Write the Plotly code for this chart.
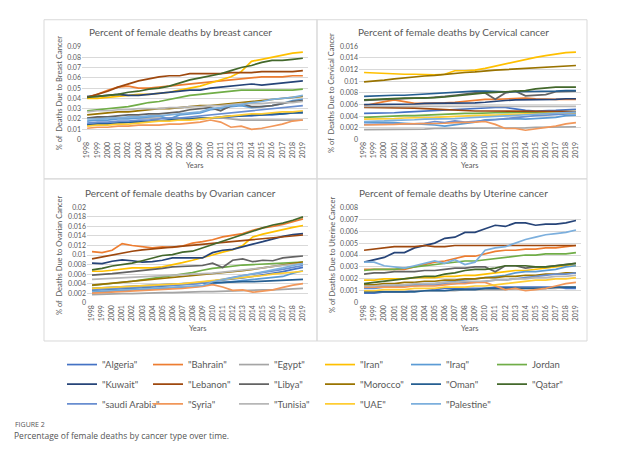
import plotly.graph_objects as go

W, H = 634, 455
years = list(range(1998, 2020))
year_labels = [str(y) for y in years]

countries = ['"Algeria"', '"Bahrain"', '"Egypt"', '"Iran"', '"Iraq"', 'Jordan',
             '"Kuwait"', '"Lebanon"', '"Libya"', '"Morocco"', '"Oman"', '"Qatar"',
             '"saudi Arabia"', '"Syria"', '"Tunisia"', '"UAE"', '"Palestine"']
colors = ['#4472C4', '#ED7D31', '#A5A5A5', '#FFC000', '#5B9BD5', '#70AD47',
          '#264478', '#9E480E', '#636363', '#997300', '#255E91', '#43682B',
          '#698ED0', '#F1975A', '#B7B7B7', '#FFCD33', '#7CAFDD']

# ---------------- Breast cancer ----------------
breast_algeria = [0.015, 0.015, 0.016, 0.016, 0.017, 0.017, 0.018, 0.018, 0.019, 0.019, 0.020, 0.020, 0.021, 0.021, 0.022, 0.023, 0.023, 0.024, 0.024, 0.025, 0.026, 0.027]
breast_bahrain = [0.041, 0.044, 0.048, 0.051, 0.052, 0.050, 0.050, 0.051, 0.052, 0.053, 0.054, 0.055, 0.056, 0.057, 0.058, 0.059, 0.060, 0.061, 0.061, 0.061, 0.062, 0.062]
breast_egypt = [0.021, 0.021, 0.021, 0.021, 0.021, 0.021, 0.021, 0.021, 0.021, 0.021, 0.021, 0.021, 0.021, 0.021, 0.020, 0.019, 0.019, 0.019, 0.019, 0.019, 0.019, 0.019]
breast_iran = [0.040, 0.040, 0.041, 0.042, 0.043, 0.044, 0.044, 0.045, 0.046, 0.048, 0.050, 0.052, 0.055, 0.058, 0.061, 0.066, 0.076, 0.078, 0.080, 0.082, 0.084, 0.085]
breast_iraq = [0.018, 0.019, 0.019, 0.020, 0.020, 0.021, 0.022, 0.023, 0.020, 0.024, 0.025, 0.026, 0.029, 0.030, 0.032, 0.033, 0.031, 0.032, 0.033, 0.035, 0.038, 0.039]
breast_jordan = [0.028, 0.029, 0.030, 0.031, 0.032, 0.034, 0.036, 0.037, 0.039, 0.041, 0.043, 0.044, 0.045, 0.046, 0.047, 0.048, 0.048, 0.048, 0.048, 0.048, 0.048, 0.049]
breast_kuwait = [0.042, 0.042, 0.043, 0.044, 0.043, 0.043, 0.044, 0.045, 0.046, 0.047, 0.048, 0.048, 0.050, 0.051, 0.052, 0.053, 0.054, 0.053, 0.054, 0.055, 0.056, 0.057]
breast_lebanon = [0.041, 0.044, 0.047, 0.051, 0.054, 0.057, 0.059, 0.061, 0.062, 0.062, 0.064, 0.064, 0.064, 0.064, 0.065, 0.065, 0.065, 0.066, 0.066, 0.066, 0.066, 0.067]
breast_libya = [0.021, 0.022, 0.022, 0.023, 0.024, 0.024, 0.025, 0.025, 0.026, 0.027, 0.029, 0.030, 0.031, 0.028, 0.033, 0.035, 0.032, 0.032, 0.033, 0.035, 0.037, 0.038]
breast_morocco = [0.024, 0.025, 0.026, 0.027, 0.027, 0.028, 0.029, 0.030, 0.030, 0.031, 0.032, 0.033, 0.033, 0.034, 0.035, 0.036, 0.037, 0.038, 0.039, 0.040, 0.041, 0.042]
breast_oman = [0.014, 0.015, 0.015, 0.016, 0.017, 0.017, 0.018, 0.018, 0.019, 0.020, 0.020, 0.021, 0.021, 0.022, 0.023, 0.023, 0.024, 0.024, 0.025, 0.025, 0.026, 0.026]
breast_qatar = [0.041, 0.042, 0.043, 0.044, 0.046, 0.047, 0.049, 0.050, 0.052, 0.055, 0.058, 0.060, 0.062, 0.064, 0.067, 0.070, 0.072, 0.075, 0.077, 0.077, 0.078, 0.079]
breast_saudi = [0.016, 0.017, 0.017, 0.018, 0.018, 0.019, 0.019, 0.020, 0.021, 0.021, 0.022, 0.023, 0.024, 0.025, 0.026, 0.027, 0.028, 0.029, 0.030, 0.031, 0.032, 0.033]
breast_syria = [0.011, 0.012, 0.012, 0.013, 0.013, 0.014, 0.014, 0.014, 0.015, 0.015, 0.016, 0.017, 0.019, 0.017, 0.012, 0.013, 0.010, 0.011, 0.013, 0.015, 0.018, 0.019]
breast_tunisia = [0.027, 0.028, 0.028, 0.029, 0.029, 0.030, 0.030, 0.030, 0.031, 0.031, 0.032, 0.032, 0.033, 0.033, 0.034, 0.035, 0.035, 0.035, 0.036, 0.036, 0.036, 0.037]
breast_uae = [0.013, 0.014, 0.014, 0.015, 0.015, 0.016, 0.017, 0.018, 0.018, 0.019, 0.019, 0.020, 0.021, 0.022, 0.023, 0.024, 0.025, 0.025, 0.026, 0.027, 0.027, 0.028]
breast_palestine = [0.020, 0.020, 0.021, 0.021, 0.022, 0.022, 0.023, 0.023, 0.024, 0.025, 0.026, 0.027, 0.030, 0.031, 0.033, 0.034, 0.036, 0.037, 0.039, 0.040, 0.041, 0.043]

# ---------------- Cervical cancer ----------------
cervical_algeria = [0.0045, 0.0045, 0.0046, 0.0046, 0.0047, 0.0048, 0.0049, 0.0049, 0.0050, 0.0051, 0.0053, 0.0054, 0.0055, 0.0055, 0.0055, 0.0052, 0.0050, 0.0049, 0.0049, 0.0050, 0.0051, 0.0052]
cervical_bahrain = [0.0058, 0.0062, 0.0065, 0.0068, 0.0065, 0.0062, 0.0062, 0.0062, 0.0063, 0.0064, 0.0066, 0.0068, 0.0069, 0.0069, 0.0070, 0.0071, 0.0071, 0.0070, 0.0069, 0.0069, 0.0069, 0.0069]
cervical_egypt = [0.0017, 0.0017, 0.0017, 0.0018, 0.0018, 0.0018, 0.0018, 0.0019, 0.0019, 0.0019, 0.0019, 0.0020, 0.0020, 0.0020, 0.0020, 0.0020, 0.0020, 0.0021, 0.0021, 0.0021, 0.0022, 0.0022]
cervical_iran = [0.0115, 0.0114, 0.0114, 0.0113, 0.0112, 0.0112, 0.0111, 0.0111, 0.0112, 0.0118, 0.0118, 0.0119, 0.0122, 0.0126, 0.0129, 0.0133, 0.0137, 0.0141, 0.0144, 0.0147, 0.0149, 0.0150]
cervical_iraq = [0.0030, 0.0030, 0.0030, 0.0029, 0.0028, 0.0027, 0.0027, 0.0025, 0.0023, 0.0025, 0.0028, 0.0030, 0.0034, 0.0035, 0.0036, 0.0036, 0.0035, 0.0036, 0.0036, 0.0038, 0.0041, 0.0042]
cervical_jordan = [0.0038, 0.0039, 0.0040, 0.0040, 0.0041, 0.0041, 0.0042, 0.0042, 0.0043, 0.0044, 0.0045, 0.0045, 0.0046, 0.0046, 0.0046, 0.0047, 0.0047, 0.0047, 0.0047, 0.0047, 0.0047, 0.0048]
cervical_kuwait = [0.0060, 0.0060, 0.0061, 0.0061, 0.0061, 0.0061, 0.0062, 0.0062, 0.0062, 0.0062, 0.0062, 0.0063, 0.0064, 0.0066, 0.0067, 0.0068, 0.0068, 0.0068, 0.0069, 0.0069, 0.0070, 0.0070]
cervical_lebanon = [0.0055, 0.0055, 0.0055, 0.0055, 0.0055, 0.0054, 0.0053, 0.0052, 0.0051, 0.0050, 0.0050, 0.0049, 0.0049, 0.0049, 0.0048, 0.0048, 0.0048, 0.0048, 0.0048, 0.0048, 0.0048, 0.0048]
cervical_libya = [0.0067, 0.0068, 0.0069, 0.0070, 0.0070, 0.0071, 0.0071, 0.0072, 0.0074, 0.0076, 0.0078, 0.0080, 0.0080, 0.0069, 0.0080, 0.0083, 0.0075, 0.0076, 0.0077, 0.0082, 0.0083, 0.0083]
cervical_morocco = [0.0099, 0.0100, 0.0102, 0.0104, 0.0106, 0.0107, 0.0109, 0.0110, 0.0112, 0.0113, 0.0115, 0.0116, 0.0118, 0.0119, 0.0120, 0.0121, 0.0122, 0.0123, 0.0124, 0.0125, 0.0126, 0.0127]
cervical_oman = [0.0074, 0.0075, 0.0075, 0.0076, 0.0076, 0.0077, 0.0078, 0.0080, 0.0081, 0.0082, 0.0083, 0.0083, 0.0083, 0.0082, 0.0082, 0.0082, 0.0082, 0.0082, 0.0083, 0.0083, 0.0084, 0.0084]
cervical_qatar = [0.0068, 0.0069, 0.0070, 0.0071, 0.0071, 0.0071, 0.0071, 0.0072, 0.0073, 0.0075, 0.0077, 0.0079, 0.0080, 0.0081, 0.0082, 0.0083, 0.0084, 0.0087, 0.0089, 0.0090, 0.0090, 0.0090]
cervical_saudi = [0.0026, 0.0026, 0.0027, 0.0027, 0.0027, 0.0027, 0.0028, 0.0031, 0.0029, 0.0032, 0.0030, 0.0031, 0.0033, 0.0034, 0.0036, 0.0038, 0.0040, 0.0041, 0.0042, 0.0043, 0.0044, 0.0045]
cervical_syria = [0.0025, 0.0025, 0.0026, 0.0026, 0.0027, 0.0027, 0.0027, 0.0028, 0.0028, 0.0029, 0.0029, 0.0030, 0.0031, 0.0026, 0.0019, 0.0019, 0.0016, 0.0018, 0.0020, 0.0023, 0.0027, 0.0029]
cervical_tunisia = [0.0057, 0.0057, 0.0057, 0.0057, 0.0057, 0.0058, 0.0058, 0.0058, 0.0058, 0.0058, 0.0058, 0.0058, 0.0058, 0.0058, 0.0058, 0.0058, 0.0058, 0.0058, 0.0058, 0.0058, 0.0058, 0.0057]
cervical_uae = [0.0035, 0.0035, 0.0036, 0.0036, 0.0037, 0.0037, 0.0038, 0.0038, 0.0039, 0.0040, 0.0040, 0.0041, 0.0042, 0.0042, 0.0043, 0.0043, 0.0044, 0.0044, 0.0045, 0.0045, 0.0046, 0.0046]
cervical_palestine = [0.0031, 0.0031, 0.0032, 0.0033, 0.0033, 0.0034, 0.0035, 0.0035, 0.0036, 0.0036, 0.0037, 0.0038, 0.0039, 0.0040, 0.0040, 0.0041, 0.0042, 0.0043, 0.0044, 0.0045, 0.0046, 0.0047]

# ---------------- Ovarian cancer ----------------
ovarian_algeria = [0.0030, 0.0031, 0.0032, 0.0033, 0.0034, 0.0035, 0.0036, 0.0037, 0.0038, 0.0039, 0.0041, 0.0043, 0.0045, 0.0047, 0.0049, 0.0052, 0.0055, 0.0058, 0.0061, 0.0065, 0.0070, 0.0074]
ovarian_bahrain = [0.0107, 0.0105, 0.0110, 0.0124, 0.0120, 0.0117, 0.0115, 0.0117, 0.0116, 0.0119, 0.0125, 0.0128, 0.0132, 0.0138, 0.0141, 0.0145, 0.0152, 0.0157, 0.0160, 0.0164, 0.0170, 0.0176]
ovarian_egypt = [0.0017, 0.0018, 0.0018, 0.0019, 0.0019, 0.0020, 0.0020, 0.0021, 0.0021, 0.0022, 0.0022, 0.0023, 0.0023, 0.0024, 0.0025, 0.0025, 0.0026, 0.0027, 0.0027, 0.0028, 0.0029, 0.0030]
ovarian_iran = [0.0066, 0.0066, 0.0068, 0.0071, 0.0073, 0.0073, 0.0073, 0.0075, 0.0079, 0.0084, 0.0089, 0.0094, 0.0100, 0.0106, 0.0111, 0.0120, 0.0138, 0.0144, 0.0149, 0.0153, 0.0158, 0.0162]
ovarian_iraq = [0.0022, 0.0023, 0.0024, 0.0025, 0.0026, 0.0027, 0.0028, 0.0029, 0.0030, 0.0032, 0.0033, 0.0035, 0.0040, 0.0042, 0.0044, 0.0046, 0.0048, 0.0050, 0.0052, 0.0055, 0.0062, 0.0067]
ovarian_jordan = [0.0036, 0.0038, 0.0040, 0.0043, 0.0045, 0.0048, 0.0051, 0.0053, 0.0057, 0.0059, 0.0063, 0.0068, 0.0072, 0.0074, 0.0077, 0.0079, 0.0080, 0.0081, 0.0082, 0.0083, 0.0084, 0.0085]
ovarian_kuwait = [0.0083, 0.0082, 0.0087, 0.0090, 0.0088, 0.0085, 0.0086, 0.0089, 0.0094, 0.0094, 0.0095, 0.0094, 0.0105, 0.0110, 0.0112, 0.0118, 0.0123, 0.0128, 0.0134, 0.0139, 0.0143, 0.0145]
ovarian_lebanon = [0.0092, 0.0096, 0.0100, 0.0105, 0.0108, 0.0111, 0.0113, 0.0115, 0.0117, 0.0119, 0.0120, 0.0122, 0.0124, 0.0126, 0.0128, 0.0130, 0.0132, 0.0134, 0.0137, 0.0139, 0.0140, 0.0142]
ovarian_libya = [0.0058, 0.0059, 0.0061, 0.0063, 0.0065, 0.0067, 0.0070, 0.0072, 0.0075, 0.0076, 0.0078, 0.0078, 0.0083, 0.0074, 0.0089, 0.0092, 0.0086, 0.0089, 0.0088, 0.0094, 0.0096, 0.0098]
ovarian_morocco = [0.0037, 0.0039, 0.0041, 0.0042, 0.0044, 0.0046, 0.0048, 0.0050, 0.0052, 0.0054, 0.0056, 0.0058, 0.0060, 0.0062, 0.0064, 0.0067, 0.0070, 0.0073, 0.0076, 0.0079, 0.0082, 0.0085]
ovarian_oman = [0.0025, 0.0026, 0.0027, 0.0029, 0.0030, 0.0031, 0.0033, 0.0035, 0.0037, 0.0039, 0.0040, 0.0041, 0.0042, 0.0043, 0.0043, 0.0044, 0.0044, 0.0045, 0.0046, 0.0047, 0.0048, 0.0049]
ovarian_qatar = [0.0069, 0.0072, 0.0077, 0.0080, 0.0083, 0.0088, 0.0094, 0.0099, 0.0101, 0.0106, 0.0108, 0.0115, 0.0123, 0.0130, 0.0137, 0.0144, 0.0150, 0.0157, 0.0163, 0.0167, 0.0173, 0.0180]
ovarian_saudi = [0.0028, 0.0029, 0.0030, 0.0031, 0.0032, 0.0033, 0.0034, 0.0035, 0.0036, 0.0037, 0.0039, 0.0041, 0.0045, 0.0050, 0.0054, 0.0057, 0.0060, 0.0063, 0.0066, 0.0070, 0.0074, 0.0078]
ovarian_syria = [0.0020, 0.0021, 0.0022, 0.0023, 0.0024, 0.0025, 0.0026, 0.0027, 0.0029, 0.0030, 0.0032, 0.0034, 0.0038, 0.0033, 0.0026, 0.0027, 0.0022, 0.0024, 0.0027, 0.0032, 0.0037, 0.0040]
ovarian_tunisia = [0.0049, 0.0050, 0.0051, 0.0052, 0.0053, 0.0054, 0.0055, 0.0056, 0.0057, 0.0058, 0.0059, 0.0060, 0.0062, 0.0064, 0.0066, 0.0069, 0.0071, 0.0073, 0.0076, 0.0078, 0.0080, 0.0082]
ovarian_uae = [0.0030, 0.0031, 0.0032, 0.0033, 0.0034, 0.0035, 0.0036, 0.0037, 0.0038, 0.0040, 0.0042, 0.0044, 0.0046, 0.0048, 0.0050, 0.0052, 0.0054, 0.0057, 0.0060, 0.0062, 0.0064, 0.0066]
ovarian_palestine = [0.0024, 0.0025, 0.0026, 0.0027, 0.0028, 0.0029, 0.0030, 0.0031, 0.0032, 0.0033, 0.0034, 0.0036, 0.0044, 0.0048, 0.0052, 0.0056, 0.0060, 0.0064, 0.0068, 0.0073, 0.0078, 0.0082]

# ---------------- Uterine cancer ----------------
uterine_algeria = [0.0008, 0.0008, 0.0009, 0.0009, 0.0009, 0.0010, 0.0010, 0.0011, 0.0012, 0.0012, 0.0012, 0.0012, 0.0012, 0.0013, 0.0013, 0.0013, 0.0013, 0.0013, 0.0013, 0.0013, 0.0012, 0.0012]
uterine_bahrain = [0.0028, 0.0028, 0.0028, 0.0028, 0.0028, 0.0030, 0.0032, 0.0034, 0.0035, 0.0037, 0.0039, 0.0039, 0.0041, 0.0043, 0.0044, 0.0044, 0.0045, 0.0045, 0.0046, 0.0046, 0.0047, 0.0048]
uterine_egypt = [0.0009, 0.0009, 0.0009, 0.0009, 0.0009, 0.0010, 0.0010, 0.0010, 0.0010, 0.0010, 0.0011, 0.0011, 0.0011, 0.0011, 0.0011, 0.0012, 0.0012, 0.0012, 0.0012, 0.0012, 0.0013, 0.0013]
uterine_iran = [0.0019, 0.0019, 0.0020, 0.0020, 0.0020, 0.0021, 0.0021, 0.0021, 0.0022, 0.0022, 0.0023, 0.0023, 0.0024, 0.0025, 0.0026, 0.0027, 0.0027, 0.0028, 0.0029, 0.0030, 0.0031, 0.0031]
uterine_iraq = [0.0013, 0.0013, 0.0014, 0.0014, 0.0015, 0.0015, 0.0016, 0.0016, 0.0017, 0.0018, 0.0019, 0.0020, 0.0021, 0.0022, 0.0023, 0.0025, 0.0026, 0.0026, 0.0027, 0.0028, 0.0030, 0.0031]
uterine_jordan = [0.0027, 0.0028, 0.0028, 0.0028, 0.0029, 0.0030, 0.0031, 0.0032, 0.0033, 0.0034, 0.0035, 0.0035, 0.0036, 0.0037, 0.0038, 0.0039, 0.0040, 0.0040, 0.0041, 0.0041, 0.0041, 0.0042]
uterine_kuwait = [0.0034, 0.0036, 0.0038, 0.0042, 0.0042, 0.0046, 0.0048, 0.0050, 0.0054, 0.0055, 0.0059, 0.0059, 0.0062, 0.0065, 0.0064, 0.0067, 0.0067, 0.0065, 0.0066, 0.0066, 0.0067, 0.0069]
uterine_lebanon = [0.0044, 0.0045, 0.0046, 0.0047, 0.0047, 0.0047, 0.0048, 0.0047, 0.0047, 0.0048, 0.0048, 0.0048, 0.0048, 0.0048, 0.0048, 0.0048, 0.0048, 0.0048, 0.0048, 0.0048, 0.0048, 0.0048]
uterine_libya = [0.0024, 0.0025, 0.0025, 0.0026, 0.0026, 0.0026, 0.0027, 0.0027, 0.0028, 0.0029, 0.0029, 0.0030, 0.0030, 0.0026, 0.0031, 0.0031, 0.0029, 0.0030, 0.0030, 0.0031, 0.0032, 0.0033]
uterine_morocco = [0.0015, 0.0015, 0.0016, 0.0016, 0.0017, 0.0017, 0.0018, 0.0018, 0.0019, 0.0019, 0.0020, 0.0020, 0.0021, 0.0021, 0.0022, 0.0022, 0.0023, 0.0023, 0.0024, 0.0024, 0.0025, 0.0025]
uterine_oman = [0.0009, 0.0009, 0.0009, 0.0009, 0.0009, 0.0009, 0.0010, 0.0010, 0.0010, 0.0011, 0.0011, 0.0011, 0.0012, 0.0012, 0.0012, 0.0012, 0.0012, 0.0012, 0.0012, 0.0013, 0.0013, 0.0013]
uterine_qatar = [0.0016, 0.0017, 0.0018, 0.0019, 0.0020, 0.0021, 0.0022, 0.0022, 0.0024, 0.0025, 0.0027, 0.0028, 0.0028, 0.0029, 0.0031, 0.0031, 0.0031, 0.0030, 0.0030, 0.0031, 0.0032, 0.0033]
uterine_saudi = [0.0012, 0.0012, 0.0013, 0.0013, 0.0014, 0.0014, 0.0015, 0.0015, 0.0016, 0.0016, 0.0017, 0.0017, 0.0018, 0.0019, 0.0019, 0.0020, 0.0021, 0.0022, 0.0023, 0.0024, 0.0024, 0.0025]
uterine_syria = [0.0013, 0.0013, 0.0013, 0.0013, 0.0013, 0.0014, 0.0014, 0.0014, 0.0015, 0.0016, 0.0016, 0.0017, 0.0017, 0.0014, 0.0011, 0.0012, 0.0010, 0.0011, 0.0012, 0.0014, 0.0016, 0.0017]
uterine_tunisia = [0.0014, 0.0014, 0.0015, 0.0015, 0.0015, 0.0016, 0.0016, 0.0016, 0.0017, 0.0017, 0.0018, 0.0018, 0.0018, 0.0019, 0.0019, 0.0020, 0.0020, 0.0021, 0.0021, 0.0022, 0.0022, 0.0023]
uterine_uae = [0.0010, 0.0010, 0.0011, 0.0011, 0.0011, 0.0012, 0.0012, 0.0012, 0.0013, 0.0013, 0.0013, 0.0014, 0.0014, 0.0015, 0.0016, 0.0017, 0.0018, 0.0019, 0.0019, 0.0020, 0.0020, 0.0021]
uterine_palestine = [0.0034, 0.0034, 0.0031, 0.0030, 0.0029, 0.0031, 0.0033, 0.0035, 0.0033, 0.0036, 0.0032, 0.0034, 0.0044, 0.0046, 0.0047, 0.0050, 0.0053, 0.0055, 0.0057, 0.0058, 0.0059, 0.0061]

breast = [breast_algeria, breast_bahrain, breast_egypt, breast_iran, breast_iraq, breast_jordan,
          breast_kuwait, breast_lebanon, breast_libya, breast_morocco, breast_oman, breast_qatar,
          breast_saudi, breast_syria, breast_tunisia, breast_uae, breast_palestine]
cervical = [cervical_algeria, cervical_bahrain, cervical_egypt, cervical_iran, cervical_iraq, cervical_jordan,
            cervical_kuwait, cervical_lebanon, cervical_libya, cervical_morocco, cervical_oman, cervical_qatar,
            cervical_saudi, cervical_syria, cervical_tunisia, cervical_uae, cervical_palestine]
ovarian = [ovarian_algeria, ovarian_bahrain, ovarian_egypt, ovarian_iran, ovarian_iraq, ovarian_jordan,
           ovarian_kuwait, ovarian_lebanon, ovarian_libya, ovarian_morocco, ovarian_oman, ovarian_qatar,
           ovarian_saudi, ovarian_syria, ovarian_tunisia, ovarian_uae, ovarian_palestine]
uterine = [uterine_algeria, uterine_bahrain, uterine_egypt, uterine_iran, uterine_iraq, uterine_jordan,
           uterine_kuwait, uterine_lebanon, uterine_libya, uterine_morocco, uterine_oman, uterine_qatar,
           uterine_saudi, uterine_syria, uterine_tunisia, uterine_uae, uterine_palestine]

panel_titles = ["Percent of female deaths by breast cancer", "Percent of female deaths by Cervical cancer",
                "Percent of female deaths by Ovarian cancer", "Percent of female deaths by Uterine cancer"]
y_titles = ["% of  Deaths Due to Breast Cancer", "% of  Deaths Due to Cervical Cancer",
            "% of  Deaths Due to Ovarian Cancer", "% of Deaths Due to Uterine Cancer"]
y_max = [0.09, 0.016, 0.02, 0.008]
y_step = [0.01, 0.002, 0.002, 0.001]

FONT = "Lato"
TXT = "#595959"
GRID = "#D9D9D9"

def px(x):
    return x / W

def py(y):
    return 1 - y / H

# plot-area geometry (pixels)
panels = [
    dict(x0=82, x1=308, y0=42.7, y1=137, box=(44, 15, 317, 177), tx=180, ty=27, ytx=59, yrs_y=163),
    dict(x0=359, x1=581, y0=42, y1=137, box=(317, 15, 587, 177), tx=453, ty=27, ytx=332, yrs_y=163),
    dict(x0=87, x1=308, y0=206, y1=303, box=(44, 177, 317, 342), tx=180, ty=191, ytx=59, yrs_y=329),
    dict(x0=359, x1=581, y0=206, y1=303, box=(317, 177, 587, 342), tx=453, ty=191, ytx=332, yrs_y=329),
]

datasets = [breast, cervical, ovarian, uterine]
legend_names = ["legend", "legend2", "legend3"]

fig = go.Figure()
layout = dict()
annotations = []
shapes = []

for p, (pan, data) in enumerate(zip(panels, datasets)):
    ax = "" if p == 0 else str(p + 1)
    for i, (name, col, vals) in enumerate(zip(countries, colors, data)):
        fig.add_trace(go.Scatter(
            x=years, y=vals, mode="lines", name=name,
            line=dict(color=col, width=1.7),
            xaxis="x" + ax, yaxis="y" + ax,
            legendgroup=name,
            showlegend=(p == 0),
            legend=legend_names[i // 6],
        ))
    layout["xaxis" + ax] = dict(
        domain=[px(pan["x0"]), px(pan["x1"])], anchor="y" + ax,
        range=[1997.5, 2019.5], tickmode="array", tickvals=years, ticktext=year_labels,
        tickangle=-90, tickfont=dict(size=7, color=TXT, family=FONT),
        showgrid=False, zeroline=False, showline=False, ticks="", fixedrange=True)
    layout["yaxis" + ax] = dict(
        domain=[py(pan["y1"]), py(pan["y0"])], anchor="x" + ax,
        range=[0, y_max[p]], dtick=y_step[p], tick0=0,
        tickfont=dict(size=7, color=TXT, family=FONT),
        showgrid=True, gridcolor=GRID, gridwidth=0.75, zeroline=False, showline=False,
        ticks="", fixedrange=True)
    bx = pan["box"]
    shapes.append(dict(type="rect", xref="paper", yref="paper",
                       x0=px(bx[0]), x1=px(bx[2]), y0=py(bx[3]), y1=py(bx[1]),
                       line=dict(color="#D9D9D9", width=1), fillcolor="rgba(0,0,0,0)", layer="below"))
    annotations.append(dict(text=panel_titles[p], x=px(pan["tx"]), y=py(pan["ty"]),
                            xref="paper", yref="paper", showarrow=False,
                            xanchor="center", yanchor="middle",
                            font=dict(size=10, color=TXT, family=FONT)))
    annotations.append(dict(text=y_titles[p], x=px(pan["ytx"]), y=py((pan["y0"] + pan["y1"]) / 2),
                            xref="paper", yref="paper", showarrow=False, textangle=-90,
                            xanchor="center", yanchor="middle",
                            font=dict(size=7.5, color=TXT, family=FONT)))
    annotations.append(dict(text="Years", x=px((pan["x0"] + pan["x1"]) / 2), y=py(pan["yrs_y"]),
                            xref="paper", yref="paper", showarrow=False,
                            xanchor="center", yanchor="middle",
                            font=dict(size=7.5, color=TXT, family=FONT)))

annotations.append(dict(text="FIGURE 2", x=px(13), y=py(427), xref="paper", yref="paper",
                        showarrow=False, xanchor="left", yanchor="middle",
                        font=dict(size=7, color="#555555", family="Open Sans")))
annotations.append(dict(text="Percentage of female deaths by cancer type over time.", x=px(12), y=py(438),
                        xref="paper", yref="paper", showarrow=False, xanchor="left", yanchor="middle",
                        font=dict(size=8.5, color="#555555", family="Open Sans")))

legend_rows_y = [366, 386, 406]
for name, ly in zip(legend_names, legend_rows_y):
    layout[name] = dict(orientation="h", x=px(62), y=py(ly), xanchor="left", yanchor="middle",
                        entrywidth=41, entrywidthmode="pixels", itemwidth=30,
                        font=dict(size=9.5, color=TXT, family=FONT),
                        bgcolor="rgba(0,0,0,0)", borderwidth=0,
                        tracegroupgap=0, itemclick=False, itemdoubleclick=False)

fig.update_layout(
    width=W, height=H, margin=dict(l=0, r=0, t=0, b=0),
    paper_bgcolor="white", plot_bgcolor="white",
    font=dict(family=FONT, color=TXT),
    annotations=annotations, shapes=shapes,
    **layout)

fig.write_html("out.html", config={"displayModeBar": False},
               post_script="document.body.style.margin='0px';")
